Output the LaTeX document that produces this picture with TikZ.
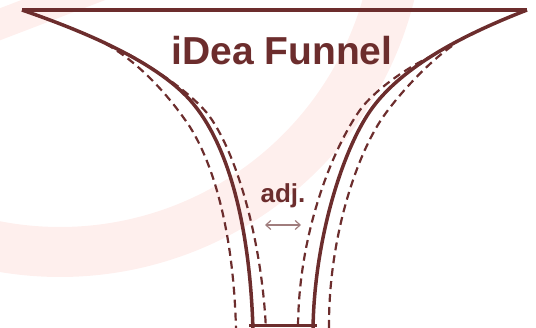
\documentclass[tikz,border=0pt]{standalone}
\usepackage{fontspec}
\setmainfont{Liberation Sans}
\usetikzlibrary{arrows.meta}
\definecolor{funnelbrown}{RGB}{108,45,45}
\definecolor{adjgray}{RGB}{160,125,125}
\definecolor{bandpink}{RGB}{254,239,237}

\begin{document}
\begin{tikzpicture}[x=1pt, y=-1pt,
    wall/.style={draw=funnelbrown, line width=3.5pt, line join=miter},
    guide/.style={draw=funnelbrown, line width=2.2pt, dash pattern=on 8pt off 5pt},
    pinkband/.style={draw=bandpink, line cap=butt},
    adjarrow/.style={draw=adjgray, line width=1.2pt, <->, >={Straight Barb[length=5pt,width=9pt]}},
    every node/.style={text=funnelbrown, font=\bfseries, inner sep=0pt}]
    \useasboundingbox (0,0) rectangle (536,328);
    \clip (0,0) rectangle (536,328);
    % faint background bands
    \draw[pinkband, line width=50pt] (60,-88) ++(5:340) arc[start angle=5, end angle=110, radius=340];
    \draw[pinkband, line width=30pt] (-15,30) -- (100,-14);
    % rim and bottom
    \draw[wall] (22,10) -- (527,10);
    \draw[wall] (249,325.5) -- (317,325.5);
    % funnel walls
    \draw[wall] (22,10) .. controls (80,30) and (154,60) .. (190,100)
        .. controls (230,145) and (250,230) .. (253,330);
    \draw[wall] (527,10) .. controls (460,36) and (403,67) .. (373,107)
        .. controls (343,147) and (314,240) .. (313,330);
    % adjustable guides
    \draw[guide] (106,44) .. controls (138,62) and (168,94) .. (190,127)
        .. controls (218,172) and (234,245) .. (236,330);
    \draw[guide] (128,54) .. controls (160,72) and (190,93) .. (207,113)
        .. controls (236,150) and (262,240) .. (266,330);
    \draw[guide] (452,46) .. controls (425,65) and (397,97) .. (383,117)
        .. controls (356,156) and (328,240) .. (329,330);
    \draw[guide] (434,55) .. controls (405,68) and (373,92) .. (360,110)
        .. controls (335,145) and (298,230) .. (298,330);
    % labels
    \node[anchor=base] (title) at (282,65) {\fontsize{39}{41}\selectfont iDea Funnel};
    \node[anchor=base] (adj) at (283,203) {\fontsize{26}{28}\selectfont adj.};
    \coordinate (adjl) at (265,225);
    \coordinate (adjr) at (301,225);
    \draw[adjarrow] (adjl) -- (adjr);
\end{tikzpicture}
\end{document}
